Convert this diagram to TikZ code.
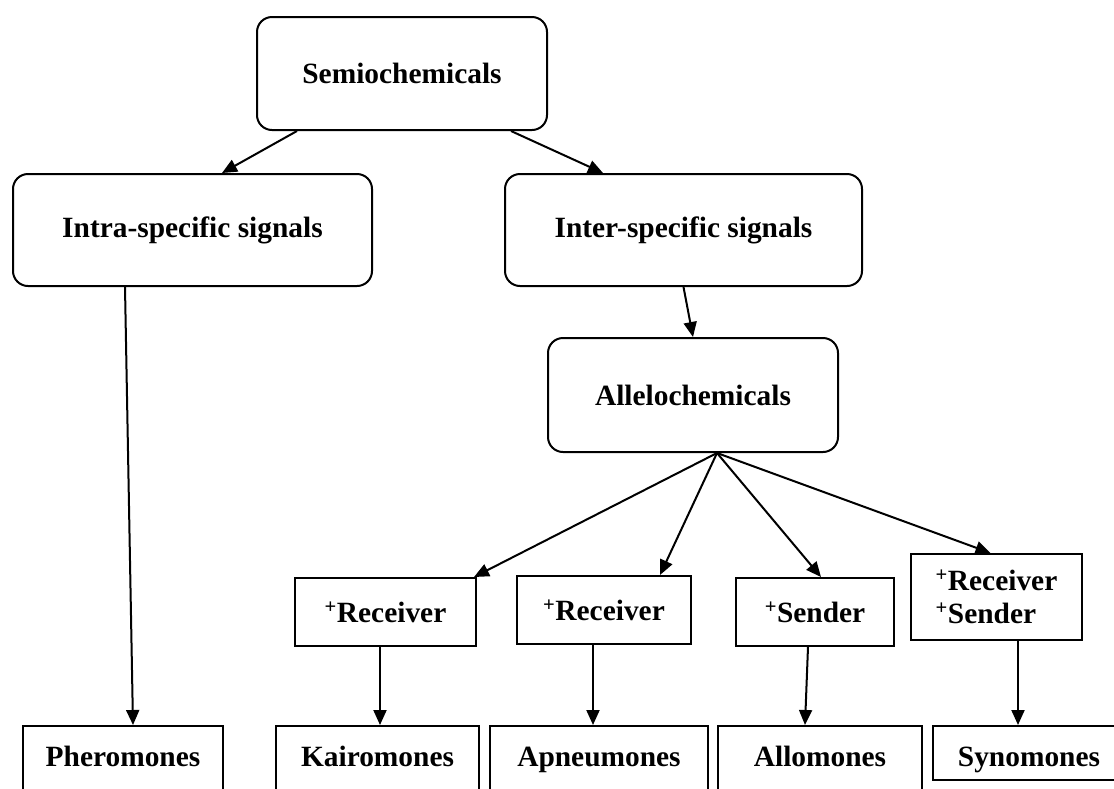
\documentclass[tikz,border=0pt]{standalone}
\usepackage{fontspec}
\setmainfont{Liberation Serif}
\usetikzlibrary{arrows.meta}

\begin{document}
\begin{tikzpicture}[x=1pt, y=-1pt, line width=2pt, >={Triangle[length=15pt,width=13pt]},
	font=\fontsize{29.4}{33}\selectfont\bfseries,
	rndbox/.style={draw, rounded corners=15pt},
	sqbox/.style={draw},
	endbox/.style={draw, anchor=north, inner ysep=0pt, text height=40pt, text depth=35pt}]
				\useasboundingbox (0,0) rectangle (1114,788);
				\clip (0,0) rectangle (1114,788);
				
				\node[rndbox, minimum width=290pt, minimum height=113pt] (Semi) at (402,73.5) {Semiochemicals};
				\node[rndbox, minimum width=359pt, minimum height=112pt] (Intra) at (192.5,230) {Intra-specific signals};
				\node[rndbox, minimum width=357pt, minimum height=112pt] (Inter) at (683.5,230) {Inter-specific signals};
				\node[rndbox, minimum width=290pt, minimum height=114pt] (Allelo) at (693,395) {Allelochemicals};
				
				\node[sqbox, minimum width=181pt, minimum height=68pt] (R1) at (385.5,612) {\textsuperscript{+}Receiver};
				\node[sqbox, minimum width=174pt, minimum height=68pt] (R2) at (604,610) {\textsuperscript{+}Receiver};
				\node[sqbox, minimum width=158pt, minimum height=68pt] (S3) at (815,612) {\textsuperscript{+}Sender};
				\node[sqbox, minimum width=171pt, minimum height=86pt, align=left] (RS4) at (996.5,597) {\textsuperscript{+}Receiver\\\textsuperscript{+}Sender};
				
				\node[endbox, minimum width=200pt] (Ph) at (123,725) {Pheromones};
				\node[endbox, minimum width=203pt] (Ka) at (377.5,725) {Kairomones};
				\node[endbox, minimum width=218pt] (Ap) at (599,725) {Apneumones};
				\node[endbox, minimum width=204pt] (Al) at (820,725) {Allomones};
				\node[endbox, minimum width=192pt, text depth=14pt] (Sy) at (1029,725) {Synomones};
				
				\draw[->] ([xshift=41pt]Semi.south west) -- ([xshift=29.5pt]Intra.north);
				\draw[->] ([xshift=-37pt]Semi.south east) -- ([xshift=99pt]Inter.north west);
				\draw[->] ([xshift=113pt]Intra.south west) -- ([xshift=10pt]Ph.north);
				\draw[->] (Inter.south) -- (Allelo.north);
				
				\draw[->] ([xshift=24pt]Allelo.south) -- ([xshift=-3pt]R1.north east);
				\draw[->] ([xshift=24pt]Allelo.south) -- ([xshift=56pt]R2.north);
				\draw[->] ([xshift=24pt]Allelo.south) -- ([xshift=6pt]S3.north);
				\draw[->] ([xshift=24pt]Allelo.south) -- ([xshift=-6pt]RS4.north);
				
				\draw[->] ([xshift=-5.5pt]R1.south) -- ([xshift=2.5pt]Ka.north);
				\draw[->] ([xshift=-11pt]R2.south) -- ([xshift=-6pt]Ap.north);
				\draw[->] ([xshift=-7pt]S3.south) -- ([xshift=-15pt]Al.north);
				\draw[->] ([xshift=21.5pt]RS4.south) -- ([xshift=-11pt]Sy.north);
			\end{tikzpicture}
\end{document}
